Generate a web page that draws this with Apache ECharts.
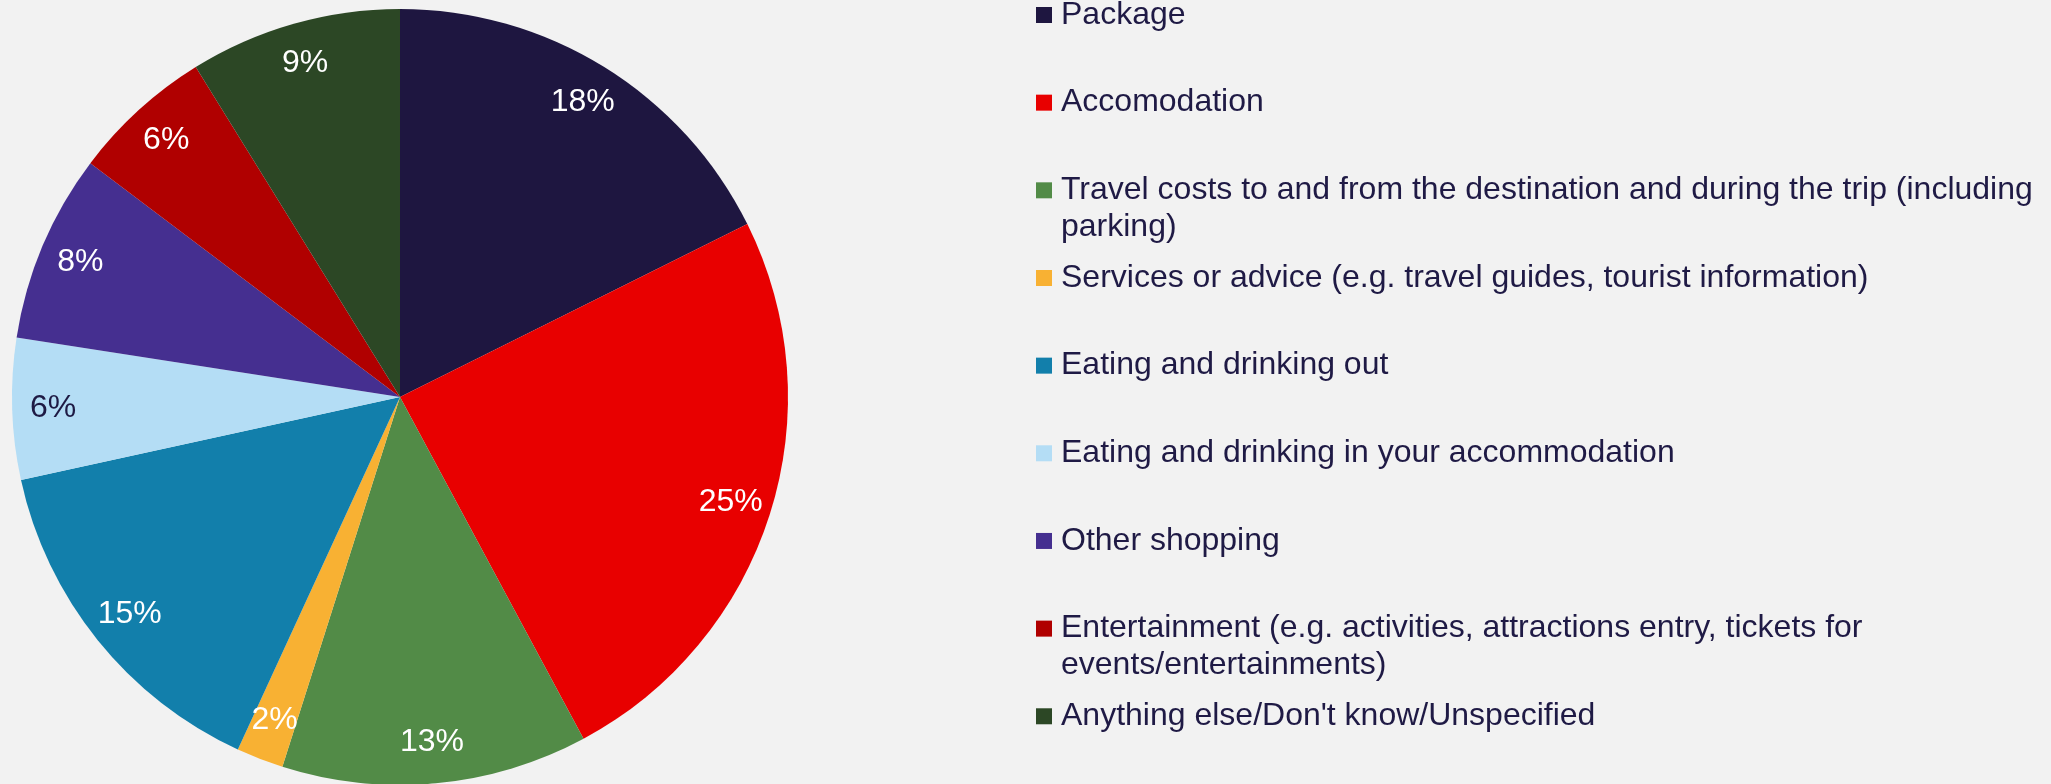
<!DOCTYPE html>
<html>
<head>
<meta charset="utf-8">
<title>Holiday spending breakdown</title>
<script src="https://cdn.jsdelivr.net/npm/echarts@6/dist/echarts.min.js"></script>
<style>
  html, body { margin: 0; padding: 0; background: #f2f2f2; }
  #chart { width: 2051px; height: 784px; }
</style>
</head>
<body>
<div id="chart"></div>
<script>
// Spending categories (clockwise from 12 o'clock)
const categories = [
  'Package',
  'Accomodation',
  'Travel costs to and from the destination and during the trip (including parking)',
  'Services or advice (e.g. travel guides, tourist information)',
  'Eating and drinking out',
  'Eating and drinking in your accommodation',
  'Other shopping',
  'Entertainment (e.g. activities, attractions entry, tickets for events/entertainments)',
  "Anything else/Don't know/Unspecified"
];

// Legend text, with the line breaks used in the key
const legendLabels = [
  'Package',
  'Accomodation',
  'Travel costs to and from the destination and during the trip (including\nparking)',
  'Services or advice (e.g. travel guides, tourist information)',
  'Eating and drinking out',
  'Eating and drinking in your accommodation',
  'Other shopping',
  'Entertainment (e.g. activities, attractions entry, tickets for\nevents/entertainments)',
  "Anything else/Don't know/Unspecified"
];

// Share of spend, in percent
const shares = [18, 25, 13, 2, 15, 6, 8, 6, 9];

const sliceColors = [
  '#1e1640', '#e80000', '#528b47', '#f8b133', '#127fab',
  '#b4ddf5', '#452f90', '#b00000', '#2c4725'
];

// Label text colours (dark text on the pale slice)
const labelColors = [
  '#ffffff', '#ffffff', '#ffffff', '#ffffff', '#ffffff',
  '#1e1a44', '#ffffff', '#ffffff', '#ffffff'
];

const FONT = "'Liberation Sans', Arial, Helvetica, sans-serif";
const TEXT_COLOR = '#1f1a45';
const FONT_SIZE = 32;

// Key layout: one row every KEY_STEP px, first icon centred at KEY_FIRST
const KEY_LEFT = 1036;
const KEY_FIRST = 15;
const KEY_STEP = 87.66;
const KEY_HALF_LINE = 16;

const sliceData = categories.map((name, i) => ({
  name,
  value: shares[i],
  itemStyle: { color: sliceColors[i] }
}));

const labelData = categories.map((name, i) => ({
  name,
  value: shares[i],
  label: { color: labelColors[i] }
}));

// One legend block per category so wrapped entries keep the even row rhythm
const legends = categories.map((name, i) => ({
  orient: 'vertical',
  left: KEY_LEFT,
  top: KEY_FIRST + i * KEY_STEP - KEY_HALF_LINE,
  padding: 0,
  itemWidth: 16,
  itemHeight: 16,
  icon: 'rect',
  selectedMode: false,
  data: [name],
  formatter: () => '{t|' + legendLabels[i] + '}',
  textStyle: {
    height: 37,
    padding: [0, 0, 0, 4],
    rich: {
      t: {
        fontFamily: FONT,
        fontSize: FONT_SIZE,
        color: TEXT_COLOR,
        lineHeight: 37
      }
    }
  }
}));

const chart = echarts.init(document.getElementById('chart'), null, { renderer: 'canvas' });

chart.setOption({
  backgroundColor: '#f2f2f2',
  animation: false,
  legend: legends,
  series: [
    {
      name: 'Spend',
      type: 'pie',
      center: [400, 397],
      radius: [0, 388],
      startAngle: 90,
      clockwise: true,
      silent: true,
      label: { show: false },
      labelLine: { show: false },
      itemStyle: { borderWidth: 0 },
      data: sliceData
    },
    {
      // transparent ring carrying the percentage labels near the rim
      name: 'Labels',
      type: 'pie',
      center: [400, 397],
      radius: [300, 388],
      startAngle: 90,
      clockwise: true,
      silent: true,
      itemStyle: { color: 'rgba(0,0,0,0)', borderWidth: 0 },
      label: {
        show: true,
        position: 'inside',
        formatter: '{c}%',
        fontFamily: FONT,
        fontSize: FONT_SIZE
      },
      labelLine: { show: false },
      data: labelData
    }
  ]
});
</script>
</body>
</html>
